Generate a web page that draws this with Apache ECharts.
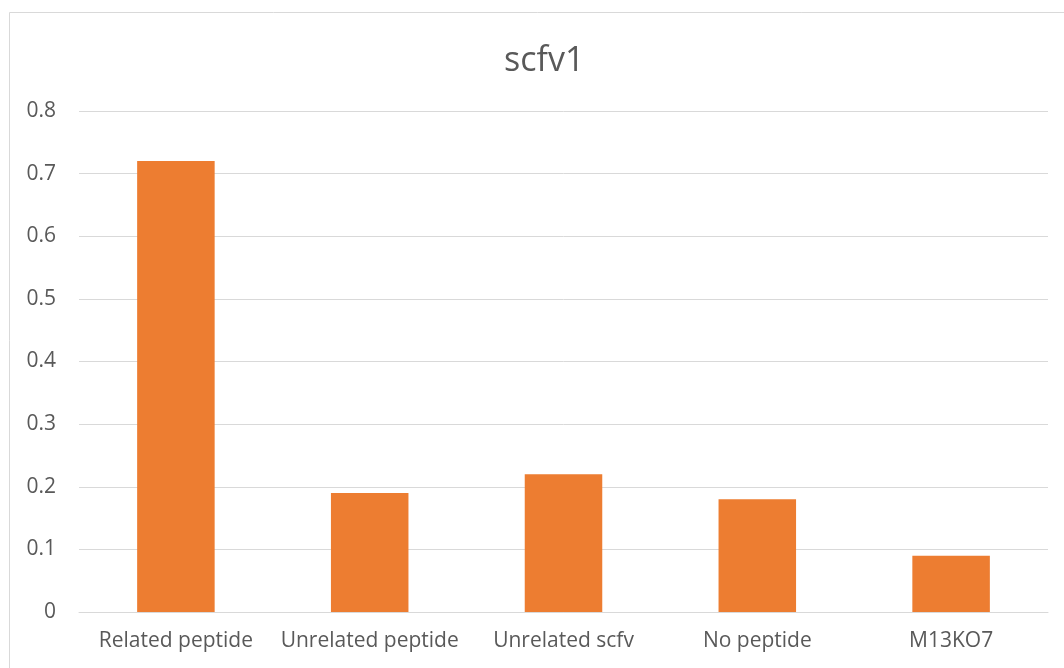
<!DOCTYPE html>
<html>
<head>
<meta charset="utf-8">
<script src="https://cdn.jsdelivr.net/npm/echarts@6/dist/echarts.min.js"></script>
<style>html,body{margin:0;padding:0;background:#fff;}#c{width:1064px;height:668px;}</style>
</head>
<body>
<div id="c"></div>
<script>
const categories = ['Related peptide', 'Unrelated peptide', 'Unrelated scfv', 'No peptide', 'M13KO7'];
const values = [0.72, 0.19, 0.22, 0.18, 0.09];
const chartTitle = 'scfv1';

const chart = echarts.init(document.getElementById('c'), null, {renderer: 'canvas'});
const font = '"Open Sans", "Noto Sans", sans-serif';
chart.setOption({
  animation: false,
  backgroundColor: '#fff',
  title: {
    text: chartTitle, left: 499, top: 39,
    textStyle: {fontFamily: font, fontSize: 34, fontWeight: 'normal', color: '#595959'}
  },
  graphic: [{
    type: 'rect', shape: {x: 9.5, y: 12.5, width: 1200, height: 800},
    style: {fill: 'none', stroke: '#D9D9D9', lineWidth: 1}, silent: true
  }],
  grid: {left: 79, right: 16, top: 111, bottom: 56},
  xAxis: {
    type: 'category', data: categories,
    axisLine: {lineStyle: {color: '#D9D9D9', width: 1}},
    axisTick: {show: false},
    axisLabel: {fontFamily: font, fontSize: 21, color: '#595959', margin: 19, interval: 0, hideOverlap: false}
  },
  yAxis: {
    type: 'value', min: 0, max: 0.8, interval: 0.1,
    axisLine: {show: false}, axisTick: {show: false},
    splitLine: {lineStyle: {color: '#D9D9D9', width: 1}},
    axisLabel: {fontFamily: font, fontSize: 21, color: '#595959', margin: 23,
      formatter: v => v === 0 ? '0' : String(Math.round(v * 10) / 10)}
  },
  series: [{
    type: 'bar', data: values, barWidth: '40%',
    itemStyle: {color: '#ED7D31'}
  }]
});
</script>
</body>
</html>
